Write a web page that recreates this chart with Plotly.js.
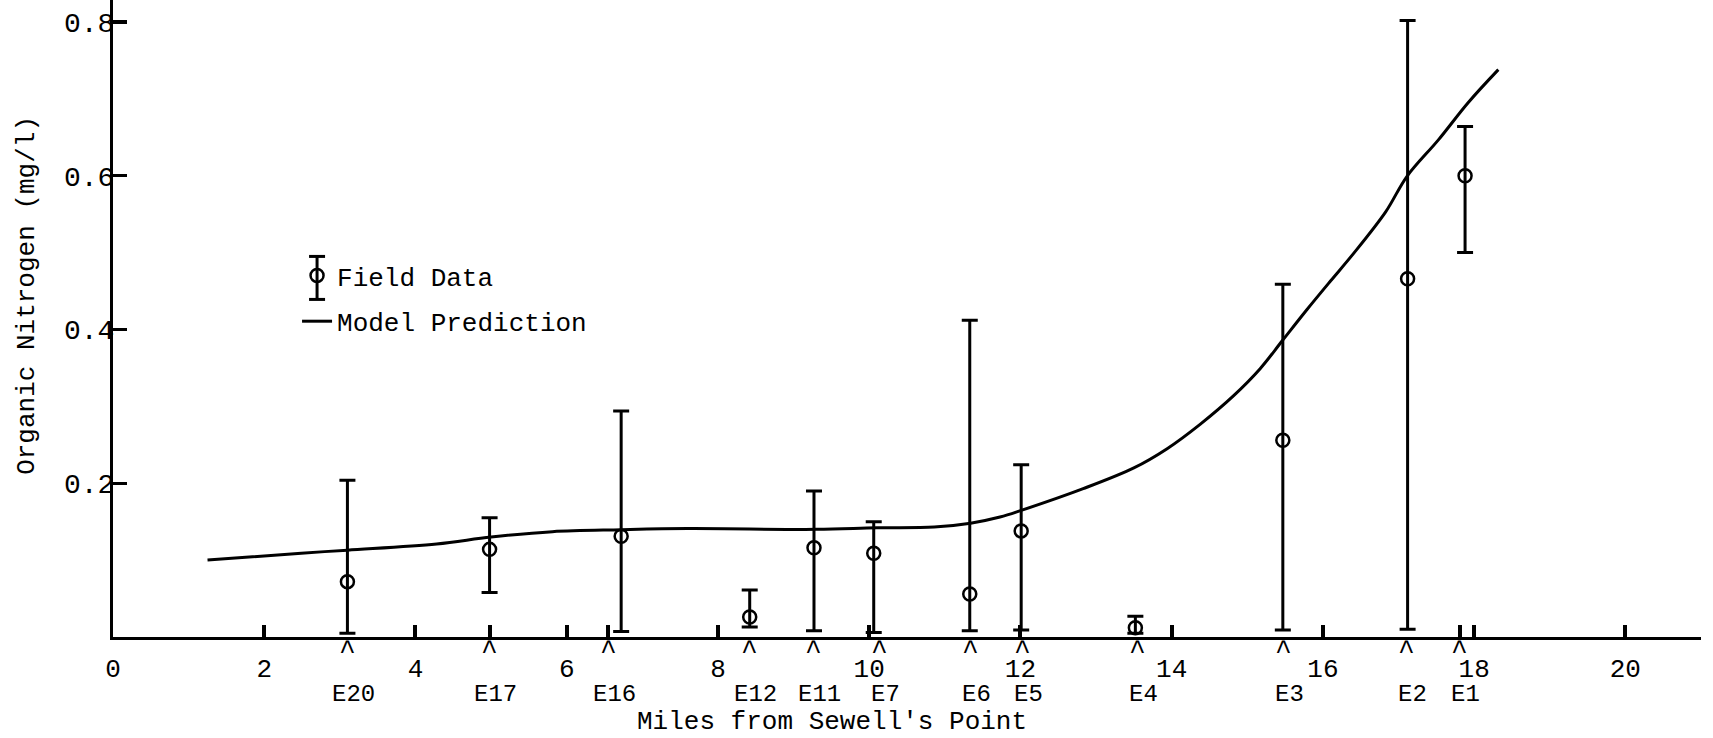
<!DOCTYPE html>
<html>
<head>
<meta charset="utf-8">
<script src="https://cdn.plot.ly/plotly-3.0.1.min.js"></script>
<style>html,body{margin:0;padding:0;background:#fff;}#chart{width:1713px;height:738px;}</style>
</head>
<body>
<div id="chart"></div>
<script>
// Stations along the estuary (miles from Sewell's Point)
const stations = ['E20','E17','E16','E12','E11','E7','E6','E5','E4','E3','E2','E1'];
const stationMiles = [3.10, 4.98, 6.55, 8.42, 9.27, 10.14, 11.34, 12.03, 13.55, 15.48, 17.11, 17.81];

// Field data: mean and range (mg/l)
const fieldMiles = [3.10, 4.98, 6.72, 8.42, 9.27, 10.06, 11.33, 12.01, 13.52, 15.47, 17.12, 17.88];
const fieldMean  = [0.072, 0.114, 0.131, 0.026, 0.116, 0.109, 0.056, 0.138, 0.012, 0.256, 0.466, 0.600];
const fieldHigh  = [0.204, 0.155, 0.294, 0.061, 0.190, 0.150, 0.412, 0.224, 0.027, 0.459, 0.802, 0.664];
const fieldLow   = [0.005, 0.058, 0.007, 0.013, 0.008, 0.006, 0.008, 0.009, 0.005, 0.009, 0.010, 0.500];

// Model prediction
const modelMiles = [1.25, 2.49, 3.10, 4.28, 5.00, 5.81, 6.72, 7.60, 9.30, 10.10, 10.86, 11.34, 11.73, 12.02, 12.83, 13.50, 13.94, 14.38, 14.82, 15.17, 15.46, 15.79, 16.10, 16.39, 16.83, 17.11, 17.53, 17.92, 18.32];
const modelValue = [0.100, 0.109, 0.113, 0.121, 0.130, 0.137, 0.1395, 0.141, 0.140, 0.142, 0.143, 0.148, 0.156, 0.165, 0.193, 0.220, 0.245, 0.277, 0.314, 0.349, 0.385, 0.426, 0.463, 0.497, 0.553, 0.599, 0.647, 0.695, 0.738];

// Axis ticks
const xTickVals = [0, 2, 4, 4.98, 6, 6.55, 8, 10, 12, 14, 16, 17.81, 18, 20];
const xTickText = ['0', '2', '4', '', '6', '', '8', '10', '12', '14', '16', '', '18', '20'];
const yTickVals = [0.2, 0.4, 0.6, 0.8];
const yTickText = ['0.2', '0.4', '0.6', '0.8'];

const FONT = 'Liberation Mono, Courier New, monospace';

const fieldTrace = {
  x: fieldMiles, y: fieldMean, type: 'scatter', mode: 'markers', name: 'Field Data',
  legendgroup: 'a',
  marker: {symbol: 'circle-open', size: 13, color: '#000', line: {width: 2.5, color: '#000'}},
  error_y: {
    type: 'data', symmetric: false,
    array: fieldHigh.map((h, i) => h - fieldMean[i]),
    arrayminus: fieldMean.map((m, i) => m - fieldLow[i]),
    color: '#000', thickness: 3, width: 8
  },
  cliponaxis: false
};

const modelTrace = {
  x: modelMiles, y: modelValue, type: 'scatter', mode: 'lines', name: 'Model Prediction',
  legendgroup: 'b',
  line: {color: '#000', width: 3, shape: 'spline', smoothing: 1.0}
};

const annotations = [];
stations.forEach((s, i) => {
  annotations.push({x: stationMiles[i], xref: 'x', y: 0.004, yref: 'paper', yanchor: 'top',
    text: '^', showarrow: false, font: {family: FONT, size: 28, color: '#000'}});
  annotations.push({x: stationMiles[i], xref: 'x', y: -0.066, yref: 'paper', yanchor: 'top', xshift: 6,
    text: s, showarrow: false, font: {family: FONT, size: 24, color: '#000'}});
});
annotations.push({x: 0.4525, xref: 'paper', y: -0.134, yref: 'paper', yanchor: 'middle', xanchor: 'center',
  text: "Miles from Sewell's Point", showarrow: false, font: {family: FONT, size: 26, color: '#000'}});
annotations.push({x: -0.0542, xref: 'paper', y: 0.537, yref: 'paper', xanchor: 'center', yanchor: 'middle',
  text: 'Organic Nitrogen (mg/l)', textangle: -90, showarrow: false, font: {family: FONT, size: 26, color: '#000'}});

// error-bar glyph for the "Field Data" legend entry
const legX = 0.1285, legY = 0.5637;
const legendBar = [
  {type: 'line', xref: 'paper', yref: 'paper', xsizemode: 'pixel', ysizemode: 'pixel', xanchor: legX, yanchor: legY,
   x0: 0, x1: 0, y0: -21.5, y1: 21.5, line: {color: '#000', width: 3}},
  {type: 'line', xref: 'paper', yref: 'paper', xsizemode: 'pixel', ysizemode: 'pixel', xanchor: legX, yanchor: legY,
   x0: -8, x1: 8, y0: 21.5, y1: 21.5, line: {color: '#000', width: 3}},
  {type: 'line', xref: 'paper', yref: 'paper', xsizemode: 'pixel', ysizemode: 'pixel', xanchor: legX, yanchor: legY,
   x0: -8, x1: 8, y0: -21.5, y1: -21.5, line: {color: '#000', width: 3}}
];

const layout = {
  width: 1713, height: 738,
  margin: {l: 113, r: 12, t: 0, b: 101, pad: 0},
  paper_bgcolor: '#fff', plot_bgcolor: '#fff',
  font: {family: FONT, color: '#000', size: 26},
  showlegend: true,
  legend: {x: 0.1159, xanchor: 'left', y: 0.6044, yanchor: 'top', traceorder: 'grouped', tracegroupgap: 9,
    font: {family: FONT, size: 26, color: '#000'}, bgcolor: 'rgba(0,0,0,0)', borderwidth: 0},
  xaxis: {
    range: [0, 21], showgrid: false, zeroline: false, showline: true, linecolor: '#000', linewidth: 3,
    ticks: 'inside', ticklen: 12, tickwidth: 4, tickcolor: '#000',
    tickmode: 'array', tickvals: xTickVals, ticktext: xTickText,
    tickfont: {family: FONT, size: 26, color: '#000'}, ticklabelstandoff: 6
  },
  yaxis: {
    range: [0, 0.8286], showgrid: false, zeroline: false, showline: true, linecolor: '#000', linewidth: 3,
    ticks: 'inside', ticklen: 14, tickwidth: 3.5, tickcolor: '#000',
    tickmode: 'array', tickvals: yTickVals, ticktext: yTickText,
    tickfont: {family: FONT, size: 28, color: '#000'}, ticklabelstandoff: -10
  },
  shapes: legendBar,
  annotations: annotations
};

Plotly.newPlot('chart', [fieldTrace, modelTrace], layout, {displayModeBar: false, staticPlot: true});
</script>
</body>
</html>
